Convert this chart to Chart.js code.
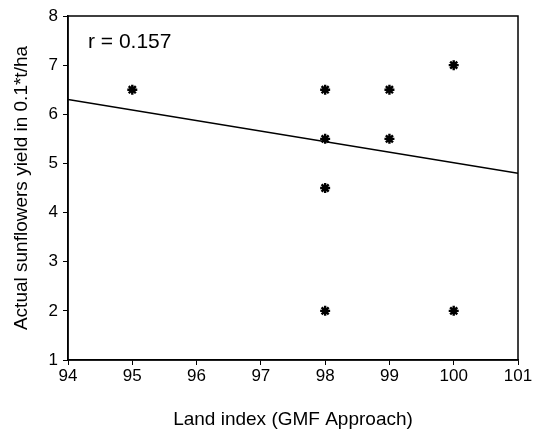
<!DOCTYPE html>
<html>
<head>
<meta charset="utf-8">
<script src="https://cdn.jsdelivr.net/npm/chart.js@4.4.0/dist/chart.umd.min.js"></script>
<style>
  html, body { margin: 0; padding: 0; background: #fff; }
  #wrap { width: 539px; height: 435px; position: relative; }
</style>
</head>
<body>
<div id="wrap"><canvas id="chart"></canvas></div>
<script>
// observed points (land index vs yield)
const landIndex = [95, 98, 98, 98, 98, 99, 99, 100, 100];
const yieldValues = [6.5, 6.5, 5.5, 4.5, 2, 6.5, 5.5, 7, 2];

// fitted line end points
const trendX = [94, 101];
const trendY = [6.3, 4.8];

const xTicks = [94, 95, 96, 97, 98, 99, 100, 101];
const yTicks = [1, 2, 3, 4, 5, 6, 7, 8];

const font = "'Liberation Sans', Arial, sans-serif";

const frame = {
  id: 'frame',
  afterDraw(chart) {
    const { ctx, chartArea: a } = chart;
    ctx.save();
    ctx.strokeStyle = '#000';
    ctx.lineWidth = 1.5;
    ctx.strokeRect(a.left, a.top, a.right - a.left, a.bottom - a.top);
    ctx.fillStyle = '#000';
    ctx.font = '21px ' + font;
    ctx.textBaseline = 'middle';
    ctx.fillText('r = 0.157', 88, 42);
    ctx.restore();
  }
};

new Chart(document.getElementById('chart'), {
  type: 'scatter',
  data: {
    datasets: [
      {
        data: landIndex.map((x, i) => ({ x, y: yieldValues[i] })),
        pointStyle: 'star',
        pointRadius: 5,
        borderColor: '#000',
        backgroundColor: '#000',
        borderWidth: 2.4,
      },
      {
        type: 'line',
        data: trendX.map((x, i) => ({ x, y: trendY[i] })),
        borderColor: '#000',
        borderWidth: 1.4,
        pointRadius: 0,
        fill: false,
      }
    ]
  },
  options: {
    responsive: true,
    maintainAspectRatio: false,
    animation: false,
    layout: { padding: { top: 16, right: 21, left: 0, bottom: 0 } },
    plugins: {
      legend: { display: false },
      tooltip: { enabled: false }
    },
    scales: {
      x: {
        type: 'linear',
        min: 94,
        max: 101,
        afterBuildTicks: s => { s.ticks = xTicks.map(v => ({ value: v })); },
        afterFit: s => { s.height = 75; },
        grid: { drawOnChartArea: false, color: '#000', tickLength: 5, lineWidth: 1 },
        border: { color: '#000', width: 1.5 },
        ticks: { color: '#000', font: { family: font, size: 17 }, padding: 1, maxRotation: 0 },
        title: {
          display: true,
          text: 'Land index (GMF Approach)',
          color: '#000',
          font: { family: font, size: 19 },
          padding: { top: 0, bottom: 4 }
        }
      },
      y: {
        min: 1,
        max: 8,
        afterBuildTicks: s => { s.ticks = yTicks.map(v => ({ value: v })); },
        afterFit: s => { s.width = 68; },
        grid: { drawOnChartArea: false, color: '#000', tickLength: 5, lineWidth: 1 },
        border: { color: '#000', width: 1.5 },
        ticks: { color: '#000', font: { family: font, size: 17 }, padding: 5 },
        title: {
          display: true,
          text: 'Actual sunflowers yield in 0.1*t/ha',
          color: '#000',
          font: { family: font, size: 19 },
          padding: { top: 10, bottom: 0 }
        }
      }
    }
  },
  plugins: [frame]
});
</script>
</body>
</html>
